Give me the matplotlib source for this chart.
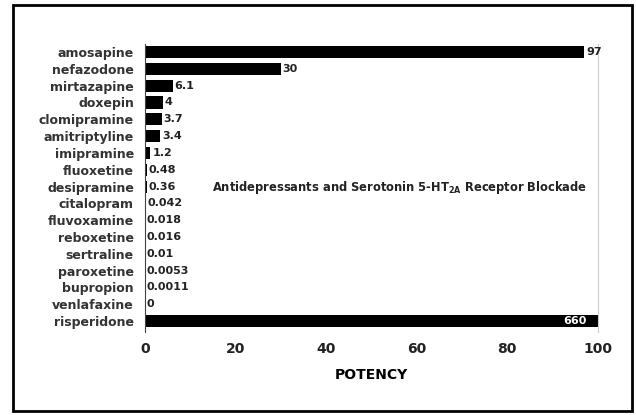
import matplotlib.pyplot as plt
from matplotlib.patches import Rectangle

# drugs, top to bottom
drugs = ['amosapine', 'nefazodone', 'mirtazapine', 'doxepin', 'clomipramine',
         'amitriptyline', 'imipramine', 'fluoxetine', 'desipramine', 'citalopram',
         'fluvoxamine', 'reboxetine', 'sertraline', 'paroxetine', 'bupropion',
         'venlafaxine', 'risperidone']
potency = [97, 30, 6.1, 4, 3.7, 3.4, 1.2, 0.48, 0.36, 0.042, 0.018, 0.016,
           0.01, 0.0053, 0.0011, 0, 660]
value_labels = ['97', '30', '6.1', '4', '3.7', '3.4', '1.2', '0.48', '0.36',
                '0.042', '0.018', '0.016', '0.01', '0.0053', '0.0011', '0', '660']
xticks = [0, 20, 40, 60, 80, 100]

plt.rcParams['font.family'] = 'DejaVu Sans'
plt.rcParams['font.weight'] = 'bold'

fig = plt.figure(figsize=(6.36, 4.15), dpi=100)
ax = fig.add_axes([0.228, 0.2, 0.712, 0.694])

y = list(range(len(drugs)))
ax.barh(y, potency, height=0.72, color='black')

for i, (v, lab) in enumerate(zip(potency, value_labels)):
    if v > 100:
        ax.text(97.5, i, lab, color='white', fontsize=8, fontweight='bold',
                va='center', ha='right')
    else:
        ax.text(v + 0.4, i, lab, color='#222222', fontsize=8, fontweight='bold',
                va='center', ha='left')

ax.set_xlim(0, 100)
ax.set_ylim(len(drugs) - 1 + 0.65, -0.48)
ax.set_yticks(y)
ax.set_yticklabels(drugs, fontsize=9, fontweight='bold', color='#333333')
ax.set_xticks(xticks)
ax.set_xticklabels([str(t) for t in xticks], fontsize=10, fontweight='bold', color='#222222')
ax.tick_params(axis='both', length=0)
ax.tick_params(axis='x', pad=7)
ax.tick_params(axis='y', pad=8)
ax.set_xlabel('POTENCY', fontsize=10, fontweight='bold', labelpad=9)

ax.spines['top'].set_visible(False)
ax.spines['bottom'].set_visible(False)
ax.spines['left'].set_color('#444444')
ax.spines['right'].set_color('#cccccc')
ax.spines['right'].set_linewidth(0.8)

ax.text(0.147, 0.5, r'Antidepressants and Serotonin 5-HT$_{\mathbf{2A}}$ Receptor Blockade',
        transform=ax.transAxes, fontsize=8.3, fontweight='bold', color='#222222',
        va='center', ha='left')

fig.patches.append(Rectangle((0.021, 0.01), 0.972, 0.978, transform=fig.transFigure,
                             fill=False, edgecolor='black', linewidth=2))

fig.savefig('out.png', dpi=100)
